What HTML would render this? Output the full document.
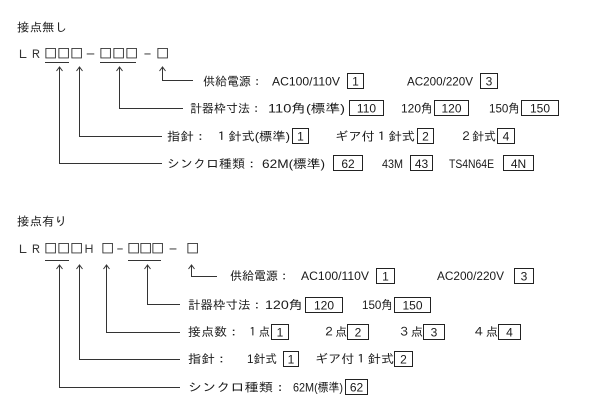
<!DOCTYPE html>
<html><head><meta charset="utf-8">
<style>
html,body{margin:0;padding:0;background:#fff;}
svg{display:block;}
text{font-family:"Liberation Sans","IPAGothic","Noto Sans CJK JP",sans-serif;font-size:12px;fill:#1a1a1a;}
text.k{font-family:"IPAGothic","Noto Sans CJK JP",sans-serif;font-size:12px;fill:#333;}
text.q{font-family:"IPAGothic","Noto Sans CJK JP",sans-serif;font-size:14px;fill:#333;}
.b{fill:none;stroke:#222;stroke-width:1;}
.l{fill:none;stroke:#333;stroke-width:1;}
.c{text-anchor:middle;}
</style></head><body>
<svg width="600" height="420" viewBox="0 0 600 420" xmlns="http://www.w3.org/2000/svg">

<!-- ===== Section 1 ===== -->
<text x="17" y="31.5" textLength="50" lengthAdjust="spacingAndGlyphs">接点無し</text>

<text class="k" x="17 30" y="58.5">ＬＲ</text>
<text class="q" x="43.5 56.5 69.5" y="58.5">□□□</text>
<text class="k" x="85" y="58.5" textLength="11" lengthAdjust="spacingAndGlyphs">－</text>
<text class="q" x="98.5 111.5 124.5" y="58.5">□□□</text>
<text class="k" x="143" y="58.5" textLength="9" lengthAdjust="spacingAndGlyphs">－</text>
<text class="q" x="155.5" y="58.5">□</text>
<line class="l" x1="45" y1="62.5" x2="69" y2="62.5"/>
<line class="l" x1="100" y1="62.5" x2="136" y2="62.5"/>

<!-- arrows section 1 -->
<polyline class="l" points="59.5,67 59.5,163.5 162,163.5"/>
<polyline class="l" points="56.5,71 59.5,67 62.5,71"/>
<polyline class="l" points="79.5,67 79.5,136.5 162,136.5"/>
<polyline class="l" points="76.5,71 79.5,67 82.5,71"/>
<polyline class="l" points="119.5,67 119.5,108.5 183,108.5"/>
<polyline class="l" points="116.5,71 119.5,67 122.5,71"/>
<polyline class="l" points="162.5,67 162.5,80.5 193,80.5"/>
<polyline class="l" points="159.5,71 162.5,67 165.5,71"/>

<!-- row 1 -->
<text x="203" y="85.5" textLength="60" lengthAdjust="spacingAndGlyphs">供給電源：</text>
<text x="272" y="85.5" textLength="68" lengthAdjust="spacingAndGlyphs">AC100/110V</text>
<rect class="b" x="347.5" y="73.5" width="16" height="15"/><text class="c" x="355.5" y="85.5">1</text>
<text x="407" y="85.5" textLength="66" lengthAdjust="spacingAndGlyphs">AC200/220V</text>
<rect class="b" x="480.5" y="73.5" width="17" height="15"/><text class="c" x="489" y="85.5">3</text>

<!-- row 2 -->
<text x="190" y="112.5" textLength="72" lengthAdjust="spacingAndGlyphs">計器枠寸法：</text>
<text x="268" y="112.5" textLength="77" lengthAdjust="spacingAndGlyphs">110角(標準)</text>
<rect class="b" x="349.5" y="100.5" width="34" height="15"/><text class="c" x="366.5" y="112.5">110</text>
<text x="401" y="112.5" textLength="32" lengthAdjust="spacingAndGlyphs">120角</text>
<rect class="b" x="434.5" y="100.5" width="34" height="15"/><text class="c" x="451.5" y="112.5">120</text>
<text x="489" y="112.5" textLength="31" lengthAdjust="spacingAndGlyphs">150角</text>
<rect class="b" x="521.5" y="100.5" width="37" height="15"/><text class="c" x="540" y="112.5">150</text>

<!-- row 3 -->
<text x="167" y="140.5" textLength="40" lengthAdjust="spacingAndGlyphs">指針：</text>
<text x="215" y="140.5" textLength="75" lengthAdjust="spacingAndGlyphs">１針式(標準)</text>
<rect class="b" x="292.5" y="128.5" width="16" height="15"/><text class="c" x="300.5" y="140.5">1</text>
<text x="335" y="140.5" textLength="80" lengthAdjust="spacingAndGlyphs">ギア付１針式</text>
<rect class="b" x="417.5" y="128.5" width="16" height="15"/><text class="c" x="425.5" y="140.5">2</text>
<text x="460" y="140.5" textLength="36" lengthAdjust="spacingAndGlyphs">２針式</text>
<rect class="b" x="497.5" y="128.5" width="17" height="15"/><text class="c" x="506" y="140.5">4</text>

<!-- row 4 -->
<text x="167" y="168" textLength="91" lengthAdjust="spacingAndGlyphs">シンクロ種類：</text>
<text x="262" y="168" textLength="63" lengthAdjust="spacingAndGlyphs">62M(標準)</text>
<rect class="b" x="333.5" y="155.5" width="29" height="15"/><text class="c" x="348" y="168">62</text>
<text x="382" y="168" textLength="21" lengthAdjust="spacingAndGlyphs">43M</text>
<rect class="b" x="410.5" y="155.5" width="22" height="15"/><text class="c" x="421.5" y="168">43</text>
<text x="449" y="168" textLength="45" lengthAdjust="spacingAndGlyphs">TS4N64E</text>
<rect class="b" x="503.5" y="155.5" width="30" height="15"/><text class="c" x="518.5" y="168">4N</text>

<!-- ===== Section 2 ===== -->
<text x="17" y="225.5" textLength="50" lengthAdjust="spacingAndGlyphs">接点有り</text>

<text class="k" x="17 30" y="253.5">ＬＲ</text>
<text class="q" x="43.5 56.5 69.5" y="253.5">□□□</text>
<text class="k" x="83" y="253.5">Ｈ</text>
<text class="q" x="100.5" y="253.5">□</text>
<text class="k" x="116" y="253.5" textLength="8" lengthAdjust="spacingAndGlyphs">－</text>
<text class="q" x="126.5 138.5 150.5" y="253.5">□□□</text>
<text class="k" x="168" y="253.5" textLength="10" lengthAdjust="spacingAndGlyphs">－</text>
<text class="q" x="185.5" y="253.5">□</text>
<line class="l" x1="45" y1="260.5" x2="69" y2="260.5"/>
<line class="l" x1="128" y1="260.5" x2="161" y2="260.5"/>

<!-- arrows section 2 -->
<polyline class="l" points="59.5,265 59.5,387.5 180,387.5"/>
<polyline class="l" points="56.5,269 59.5,265 62.5,269"/>
<polyline class="l" points="79.5,265 79.5,359.5 180,359.5"/>
<polyline class="l" points="76.5,269 79.5,265 82.5,269"/>
<polyline class="l" points="106.5,265 106.5,332.5 180,332.5"/>
<polyline class="l" points="103.5,269 106.5,265 109.5,269"/>
<polyline class="l" points="147.5,265 147.5,304.5 180,304.5"/>
<polyline class="l" points="144.5,269 147.5,265 150.5,269"/>
<polyline class="l" points="191.5,265 191.5,276.5 217,276.5"/>
<polyline class="l" points="188.5,269 191.5,265 194.5,269"/>

<!-- row 1 -->
<text x="230" y="280" textLength="60" lengthAdjust="spacingAndGlyphs">供給電源：</text>
<text x="301" y="280" textLength="68" lengthAdjust="spacingAndGlyphs">AC100/110V</text>
<rect class="b" x="376.5" y="268.5" width="18" height="15"/><text class="c" x="385.5" y="280.5">1</text>
<text x="437" y="280" textLength="67" lengthAdjust="spacingAndGlyphs">AC200/220V</text>
<rect class="b" x="514.5" y="268.5" width="19" height="15"/><text class="c" x="524" y="280.5">3</text>

<!-- row 2 -->
<text x="188" y="309" textLength="75" lengthAdjust="spacingAndGlyphs">計器枠寸法：</text>
<text x="265" y="309" textLength="38" lengthAdjust="spacingAndGlyphs">120角</text>
<rect class="b" x="305.5" y="297.5" width="37" height="15"/><text class="c" x="324" y="309.5">120</text>
<text x="362" y="309" textLength="31" lengthAdjust="spacingAndGlyphs">150角</text>
<rect class="b" x="394.5" y="297.5" width="36" height="15"/><text class="c" x="412.5" y="309.5">150</text>

<!-- row 3 -->
<text x="188" y="336" textLength="52" lengthAdjust="spacingAndGlyphs">接点数：</text>
<text x="247" y="336" textLength="23" lengthAdjust="spacingAndGlyphs">１点</text>
<rect class="b" x="271.5" y="324.5" width="17" height="15"/><text class="c" x="280" y="336.5">1</text>
<text x="323" y="336" textLength="24" lengthAdjust="spacingAndGlyphs">２点</text>
<rect class="b" x="347.5" y="324.5" width="21" height="15"/><text class="c" x="358" y="336.5">2</text>
<text x="398" y="336" textLength="25" lengthAdjust="spacingAndGlyphs">３点</text>
<rect class="b" x="423.5" y="324.5" width="21" height="15"/><text class="c" x="434" y="336.5">3</text>
<text x="473" y="336" textLength="25" lengthAdjust="spacingAndGlyphs">４点</text>
<rect class="b" x="498.5" y="324.5" width="22" height="15"/><text class="c" x="509.5" y="336.5">4</text>

<!-- row 4 -->
<text x="188" y="363" textLength="40" lengthAdjust="spacingAndGlyphs">指針：</text>
<text x="247" y="363" textLength="30" lengthAdjust="spacingAndGlyphs">1針式</text>
<rect class="b" x="283.5" y="351.5" width="15" height="15"/><text class="c" x="291" y="363.5">1</text>
<text x="315" y="363" textLength="79" lengthAdjust="spacingAndGlyphs">ギア付１針式</text>
<rect class="b" x="394.5" y="351.5" width="18" height="15"/><text class="c" x="403.5" y="363.5">2</text>

<!-- row 5 -->
<text x="188" y="391.5" textLength="99" lengthAdjust="spacingAndGlyphs">シンクロ種類：</text>
<text x="293" y="391.5" textLength="50" lengthAdjust="spacingAndGlyphs">62M(標準)</text>
<rect class="b" x="345.5" y="379.5" width="22" height="15"/><text class="c" x="356.5" y="391.5">62</text>

</svg>
</body></html>
